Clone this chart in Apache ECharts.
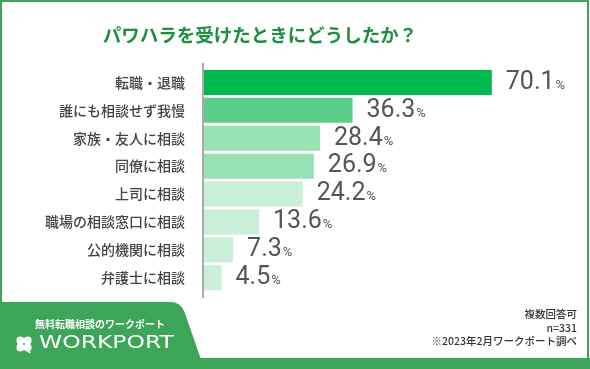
<!DOCTYPE html>
<html><head><meta charset="utf-8">
<script src="https://cdn.jsdelivr.net/npm/echarts@6/dist/echarts.min.js"></script>
<style>html,body{margin:0;padding:0;background:#fff}#c{width:590px;height:369px}</style>
</head><body><div id="c"></div>
<script>
var categories = ['転職・退職','誰にも相談せず我慢','家族・友人に相談','同僚に相談','上司に相談','職場の相談窓口に相談','公的機関に相談','弁護士に相談'];
var values = [70.1, 36.3, 28.4, 26.9, 24.2, 13.6, 7.3, 4.5];
var barColors = ['#00b84c','#5bcf88','#98e1b4','#98e1b4','#c9efd9','#c9efd9','#c9efd9','#c9efd9'];
var titleText = 'パワハラを受けたときにどうしたか？';
var notes = ['複数回答可','n=331','※2023年2月ワークポート調べ'];

var chart = echarts.init(document.getElementById('c'), null, {renderer:'canvas'});
var green = '#3da55a';
var numFont = 'Roboto,sans-serif';
var jpFont = '"Noto Sans CJK JP",sans-serif';
chart.setOption({
  animation:false,
  grid:{left:203, right:57.4, top:68.5, bottom:77.3},
  xAxis:{type:'value', min:0, max:80, show:false},
  yAxis:{type:'category', data:categories, inverse:true,
    axisLine:{show:false}, axisTick:{show:false},
    axisLabel:{margin:18, fontSize:14, color:'#444', fontWeight:500, fontFamily:jpFont}},
  series:[{type:'bar', barWidth:25,
    data: values.map(function(v,i){return {value:v, itemStyle:{color:barColors[i]}};}),
    label:{show:true, position:'right', distance:14,
      formatter:function(p){return '{n|'+p.value.toFixed(1)+'}{p|%}';},
      rich:{n:{fontSize:25, color:'#555', fontFamily:numFont, verticalAlign:'bottom', lineHeight:25},
            p:{fontSize:13, color:'#555', fontFamily:numFont, verticalAlign:'bottom', lineHeight:13, padding:[0,0,3,1]}}}
  }],
  graphic:[
    {type:'rect', shape:{x:1,y:1,width:587,height:366}, style:{fill:'none', stroke:green, lineWidth:2}, z:0},
    {type:'line', shape:{x1:203,y1:63,x2:203,y2:298}, style:{stroke:'#aaa', lineWidth:2}, z:10},
    {type:'polygon', shape:{points:[[0,302],[170,302],[175,302.6],[179,304.5],[182.3,307.8],[184.5,312],[200.5,358],[590,358],[590,369],[0,369]]}, style:{fill:green}, z:5},
    {type:'text', x:260, y:35, style:{text:titleText, fill:'#1d8f3d', font:'bold 18.5px '+jpFont, textAlign:'center', textVerticalAlign:'middle'}, z:10},
    {type:'text', x:577, y:314.5, style:{text:notes[0], fill:'#333', font:'500 10.5px '+jpFont, textAlign:'right', textVerticalAlign:'middle'}, z:10},
    {type:'text', x:577, y:328, style:{text:notes[1], fill:'#333', font:'500 10.5px '+jpFont, textAlign:'right', textVerticalAlign:'middle'}, z:10},
    {type:'text', x:577, y:341.5, style:{text:notes[2], fill:'#333', font:'500 10.5px '+jpFont, textAlign:'right', textVerticalAlign:'middle'}, z:10},
    {type:'text', x:100, y:324, style:{text:'無料転職相談のワークポート', fill:'#fff', font:'bold 10px '+jpFont, textAlign:'center', textVerticalAlign:'middle'}, z:10},
    {type:'text', x:39, y:343.5, scaleX:1.38, style:{text:'WORKPORT', fill:'#fff', font:'17px "DejaVu Sans",sans-serif', textAlign:'left', textVerticalAlign:'middle'}, z:10},
    {type:'group', x:24, y:344, z:10, children:[
      {type:'circle', shape:{cx:-3.6,cy:-3.6,r:4}, style:{fill:'#fff'}, z:10},
      {type:'circle', shape:{cx:3.6,cy:-3.6,r:4}, style:{fill:'#fff'}, z:10},
      {type:'circle', shape:{cx:-3.6,cy:3.6,r:4}, style:{fill:'#fff'}, z:10},
      {type:'circle', shape:{cx:3.6,cy:3.6,r:4}, style:{fill:'#fff'}, z:10},
      {type:'line', shape:{x1:2,y1:4,x2:6,y2:9}, style:{stroke:'#fff', lineWidth:2}, z:10}
    ]}
  ]
});
</script></body></html>
